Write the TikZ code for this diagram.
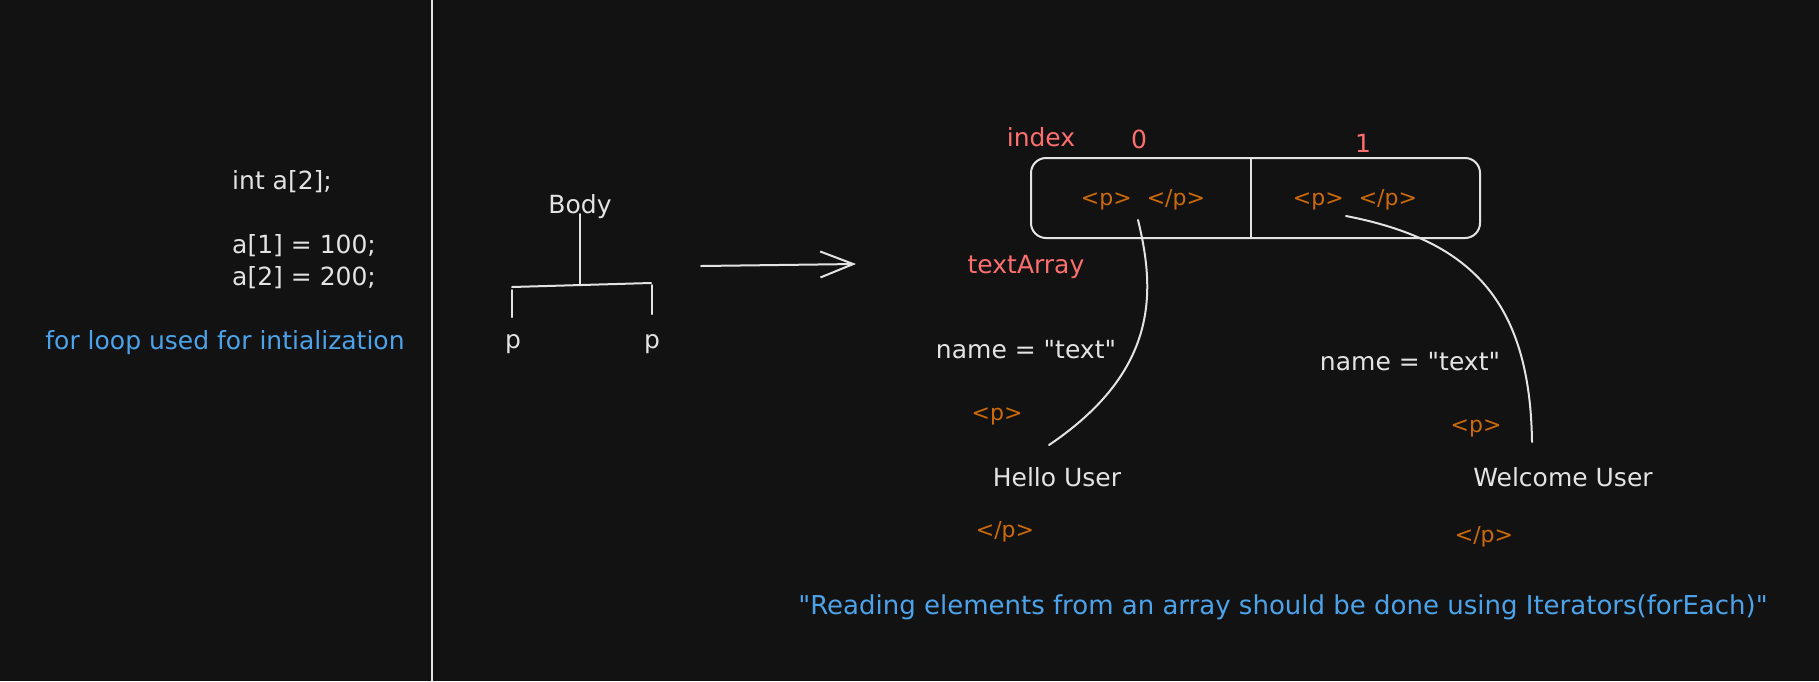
\documentclass[tikz,border=0pt]{standalone}
\usepackage{fontspec}
\newfontfamily\handfont{DejaVu Sans}
\usetikzlibrary{arrows.meta}
\definecolor{bg}{HTML}{121212}
\definecolor{fg}{HTML}{E3E3E3}
\definecolor{bluet}{HTML}{4DA3EA}
\definecolor{salmon}{HTML}{FF6E6E}
\definecolor{tagc}{HTML}{CC6A0A}
\tikzset{
  txt/.style={inner sep=0pt, text=fg, font=\handfont\fontsize{25}{32}\selectfont},
  bluetxt/.style={txt, text=bluet},
  redtxt/.style={txt, text=salmon},
  tagtxt/.style={txt, text=tagc, font=\handfont\fontsize{22}{28}\selectfont},
  ln/.style={draw=fg, line width=2pt, line cap=round, line join=round},
}
\begin{document}
\begin{tikzpicture}[x=1pt, y=-1pt]
\fill[bg] (0,0) rectangle (1819,681);
\useasboundingbox (0,0) rectangle (1819,681);

% divider
\coordinate (dtop) at (432,0);
\coordinate (dbot) at (432,681);
\draw[ln, line cap=butt] (dtop) -- (dbot);

% code block
\node[txt, anchor=west, align=left] (code) at (232,230) {int a[2];\\[0pt]\mbox{}\\a[1] = 100;\\a[2] = 200;};
\node[bluetxt] (forloop) at (225,343) {for loop used for intialization};

% tree
\node[txt] (body) at (580,207) {Body};
\coordinate (bstem) at (580,214);
\coordinate (bjoin) at (580,284);
\coordinate (hl) at (512,287);
\coordinate (hr) at (651,283);
\coordinate (l1) at (512,290);
\coordinate (l2) at (512,317);
\coordinate (r1) at (652,285);
\coordinate (r2) at (652,314);
\draw[ln] (bstem) -- (bjoin);
\draw[ln] (hl) -- (hr);
\draw[ln] (l1) -- (l2);
\draw[ln] (r1) -- (r2);
\node[txt] (pl) at (513,344) {p};
\node[txt] (pr) at (652,344) {p};

% arrow
\coordinate (as) at (701,266);
\coordinate (ae) at (856,264);
\draw[ln, -{Straight Barb[length=33pt,width=26pt,line width=2pt]}] (as) -- (ae);

% array box
\node[draw=fg, line width=2pt, rounded corners=15pt, minimum width=449pt, minimum height=80pt, inner sep=0pt] (box) at (1255.5,198) {};
\coordinate (divt) at (1251,158);
\coordinate (divb) at (1251,238);
\draw[ln] (divt) -- (divb);
\node[redtxt] (index) at (1041,137) {index};
\node[redtxt] (i0) at (1139,139) {0};
\node[redtxt] (i1) at (1363,143) {1};
\node[redtxt] (tarr) at (1026,267) {textArray};
\node[tagtxt] (cell0) at (1143,200) {<p>\hspace{15pt}</p>};
\node[tagtxt] (cell1) at (1355,200) {<p>\hspace{15pt}</p>};

% left element
\node[txt] (name0) at (1026,350) {name = "text"};
\node[tagtxt] (po0) at (997,416) {<p>};
\node[txt] (hello) at (1057,477) {Hello User};
\node[tagtxt] (pc0) at (1005,532) {</p>};

% right element
\node[txt] (name1) at (1410,362) {name = "text"};
\node[tagtxt] (po1) at (1476,428) {<p>};
\node[txt] (welcome) at (1563,477) {Welcome User};
\node[tagtxt] (pc1) at (1484,537) {</p>};

% connectors
\coordinate (c0s) at (1138,220);
\coordinate (c0e) at (1049,445);
\coordinate (c1s) at (1346,216);
\coordinate (c1e) at (1532,442);
\draw[ln] (c0s) .. controls (1155,290) and (1160,370) .. (c0e);
\draw[ln] (c1s) .. controls (1470,240) and (1530,300) .. (c1e);

% quote
\node[bluetxt, font=\handfont\fontsize{26}{32}\selectfont] (quote) at (1283,607) {"Reading elements from an array should be done using Iterators(forEach)"};
\end{tikzpicture}
\end{document}
